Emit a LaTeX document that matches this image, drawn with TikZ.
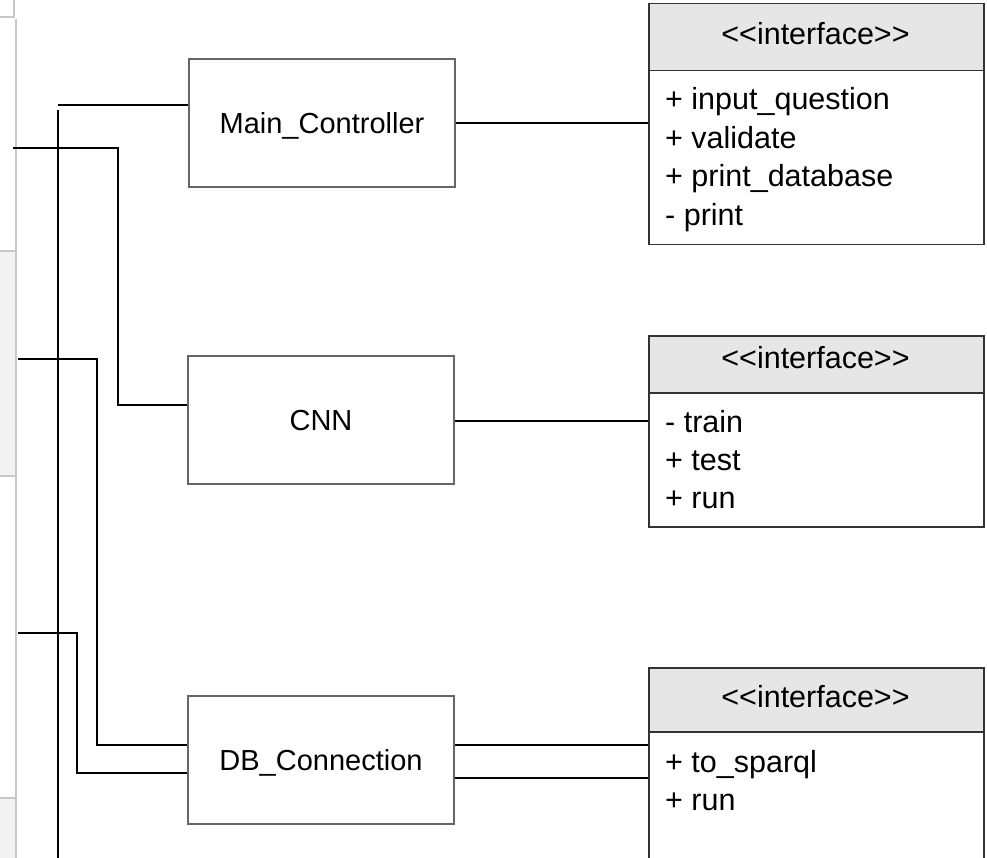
\documentclass[tikz,border=0pt]{standalone}
\usepackage{fontspec}
\setmainfont{Liberation Sans}
\definecolor{boxgray}{HTML}{666666}
\definecolor{ifgray}{HTML}{333333}
\definecolor{hdrfill}{HTML}{E6E6E6}
\definecolor{panelline}{HTML}{C8C8C8}
\definecolor{panelfill}{HTML}{F2F2F2}
\begin{document}
\begin{tikzpicture}[x=1pt,y=-1pt,
  classbox/.style={draw=boxgray,line width=2pt,fill=white,minimum width=266pt,minimum height=128pt,inner sep=0pt,
    font=\fontsize{29}{34}\selectfont,text height=21pt,text depth=0pt},
  ifhdr/.style={draw=ifgray,line width=1.5pt,fill=hdrfill,minimum width=335pt,inner sep=0pt,anchor=north west},
  ifbody/.style={draw=ifgray,line width=1.5pt,fill=white,minimum width=335pt,inner sep=0pt,anchor=north west},
  hdrtext/.style={font=\fontsize{30.5}{36}\selectfont,anchor=base,inner sep=0pt},
  member/.style={font=\fontsize{30.5}{36}\selectfont,anchor=base west,inner sep=0pt},
  wire/.style={draw=black,line width=2.2pt},
  pline/.style={draw=panelline,line width=2pt}
]
\clip (0,0) rectangle (987,858);
\fill[white] (0,0) rectangle (987,858);
% left panel remnants
\fill[panelfill] (0,251) rectangle (14.5,476);
\fill[panelfill] (0,798) rectangle (14.5,858);
\draw[pline] (0,17) -- (14,17) -- (14,0);
\draw[pline] (15.5,19) -- (15.5,858);
\draw[pline] (0,251) -- (14.5,251);
\draw[pline] (0,476) -- (14.5,476);
\draw[pline] (0,798) -- (14.5,798);

% class boxes
\node[classbox] (mc) at (322,123.5) {Main\_Controller};
\node[classbox] (cnn) at (321,420) {CNN};
\node[classbox] (db) at (321,759.5) {DB\_Connection};

% interface 1
\node[ifhdr,minimum height=67pt] (h1) at (648,3) {};
\node[ifbody,minimum height=174pt] (b1) at (648,70) {};
\node[hdrtext] (t1) at (815.5,45) {{<}{<}interface{>}{>}};
\node[member] (m11) at (665,110) {+ input\_question};
\node[member] (m12) at (665,148.5) {+ validate};
\node[member] (m13) at (665,187) {+ print\_database};
\node[member] (m14) at (665,225.5) {- print};

% interface 2
\node[ifhdr,minimum height=57pt] (h2) at (648,335) {};
\node[ifbody,minimum height=134pt] (b2) at (648,392) {};
\node[hdrtext] (t2) at (815.5,368) {{<}{<}interface{>}{>}};
\node[member] (m21) at (665,432) {- train};
\node[member] (m22) at (665,470) {+ test};
\node[member] (m23) at (665,508) {+ run};

% interface 3
\node[ifhdr,minimum height=64pt] (h3) at (648,667) {};
\node[ifbody,minimum height=200pt] (b3) at (648,731) {};
\node[hdrtext] (t3) at (815.5,707) {{<}{<}interface{>}{>}};
\node[member] (m31) at (665,772) {+ to\_sparql};
\node[member] (m32) at (665,810.5) {+ run};

% free ends
\coordinate (v1top) at (58,105);
\coordinate (v1start) at (58,110);
\coordinate (v1bot) at (58,858);
\coordinate (e2) at (13,148);
\coordinate (e3) at (18,359);
\coordinate (e4) at (18,633);

% connectors to interfaces
\draw[wire] (mc.east |- 0,123) -- (b1.west |- 0,123);
\draw[wire] (cnn.east |- 0,421) -- (b2.west |- 0,421);
\draw[wire] (db.east |- 0,745) -- (b3.west |- 0,745);
\draw[wire] (db.east |- 0,778) -- (b3.west |- 0,778);

% left connectors
\draw[wire] (v1start) -- (v1bot);
\draw[wire] (v1top) -- (v1top -| mc.west);
\draw[wire] (e2) -- (118,148) -- (118,405) -- (cnn.west |- 0,405);
\draw[wire] (e3) -- (97,359) -- (97,745) -- (db.west |- 0,745);
\draw[wire] (e4) -- (77,633) -- (77,773) -- (db.west |- 0,773);
\end{tikzpicture}
\end{document}
